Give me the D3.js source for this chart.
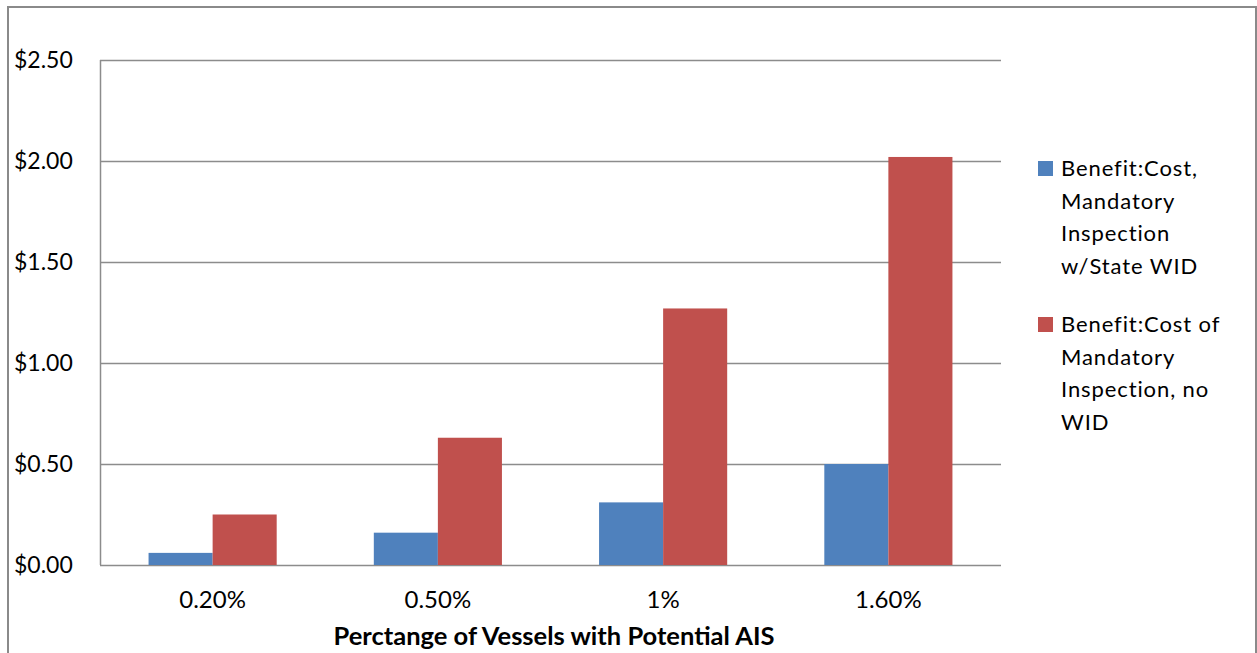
<!DOCTYPE html>
<html>
<head>
<meta charset="utf-8">
<script src="https://cdn.jsdelivr.net/npm/d3@7"></script>
<style>
  html, body { margin: 0; padding: 0; background: #fff; }
  svg { display: block; }
  text { font-family: Lato, "Open Sans", sans-serif; fill: #000; }
</style>
</head>
<body>
<svg id="chart" width="1257" height="653"></svg>
<script>
const categories = ["0.20%", "0.50%", "1%", "1.60%"];
const seriesNames = [
  ["Benefit:Cost,", "Mandatory", "Inspection", "w/State WID"],
  ["Benefit:Cost of", "Mandatory", "Inspection, no", "WID"]
];
const seriesWithWID = [0.06, 0.16, 0.31, 0.50];
const seriesNoWID = [0.25, 0.63, 1.27, 2.02];
const yTicks = [0, 0.5, 1.0, 1.5, 2.0, 2.5];
const xAxisTitle = "Perctange of Vessels with Potential AIS";
const colors = ["#4F81BD", "#C0504D"];

const svg = d3.select("#chart");
const plot = { left: 100, top: 60, right: 1001, bottom: 565 };

// outer chart border
svg.append("rect")
  .attr("x", 8).attr("y", 7).attr("width", 1248).attr("height", 700)
  .attr("fill", "#fff").attr("stroke", "#8a8a8a").attr("stroke-width", 2);

const x0 = d3.scaleBand().domain(categories).range([plot.left, plot.right]).paddingInner(0).paddingOuter(0);
const x1 = d3.scaleBand().domain([0, 1]).range([0, x0.bandwidth()]).paddingInner(0).paddingOuter(0.758);
const y = d3.scaleLinear().domain([0, 2.5]).range([plot.bottom, plot.top]);

// gridlines
svg.append("g").selectAll("line").data(yTicks).join("line")
  .attr("x1", plot.left).attr("x2", plot.right)
  .attr("y1", d => Math.round(y(d)) + 0.5).attr("y2", d => Math.round(y(d)) + 0.5)
  .attr("stroke", "#8c8c8c").attr("stroke-width", 1.5);

// y axis line
svg.append("line")
  .attr("x1", plot.left + 0.5).attr("x2", plot.left + 0.5)
  .attr("y1", plot.top).attr("y2", plot.bottom)
  .attr("stroke", "#8c8c8c").attr("stroke-width", 1.5);

// bars
const data = categories.map((c, i) => ({ cat: c, vals: [seriesWithWID[i], seriesNoWID[i]] }));
const groups = svg.append("g").selectAll("g").data(data).join("g")
  .attr("transform", d => `translate(${x0(d.cat)},0)`);
groups.selectAll("rect").data(d => d.vals.map((v, k) => ({ v, k }))).join("rect")
  .attr("x", d => x1(d.k))
  .attr("width", x1.bandwidth())
  .attr("y", d => y(d.v))
  .attr("height", d => y(0) - y(d.v))
  .attr("fill", d => colors[d.k]);

// y tick labels
svg.append("g").selectAll("text").data(yTicks).join("text")
  .attr("x", 14).attr("y", d => y(d) + 8)
  .attr("font-size", 23)
  .text(d => "$" + d.toFixed(2));

// x tick labels
svg.append("g").selectAll("text").data(categories).join("text")
  .attr("x", d => x0(d) + x0.bandwidth() / 2)
  .attr("y", 608)
  .attr("text-anchor", "middle")
  .attr("font-size", 24)
  .text(d => d);

// x axis title
svg.append("text")
  .attr("x", 554).attr("y", 645)
  .attr("text-anchor", "middle")
  .attr("font-size", 25.5).attr("font-weight", "bold")
  .text(xAxisTitle);

// legend
const legendTops = [168, 324];
const lg = svg.append("g");
seriesNames.forEach((lines, k) => {
  lg.append("rect")
    .attr("x", 1038).attr("y", legendTops[k] - 7).attr("width", 15).attr("height", 15)
    .attr("fill", colors[k]);
  const t = lg.append("text").attr("font-size", 22).attr("letter-spacing", 0.9);
  lines.forEach((ln, j) => {
    t.append("tspan").attr("x", 1061).attr("y", legendTops[k] + 8 + j * 32.7).text(ln);
  });
});
</script>
</body>
</html>
